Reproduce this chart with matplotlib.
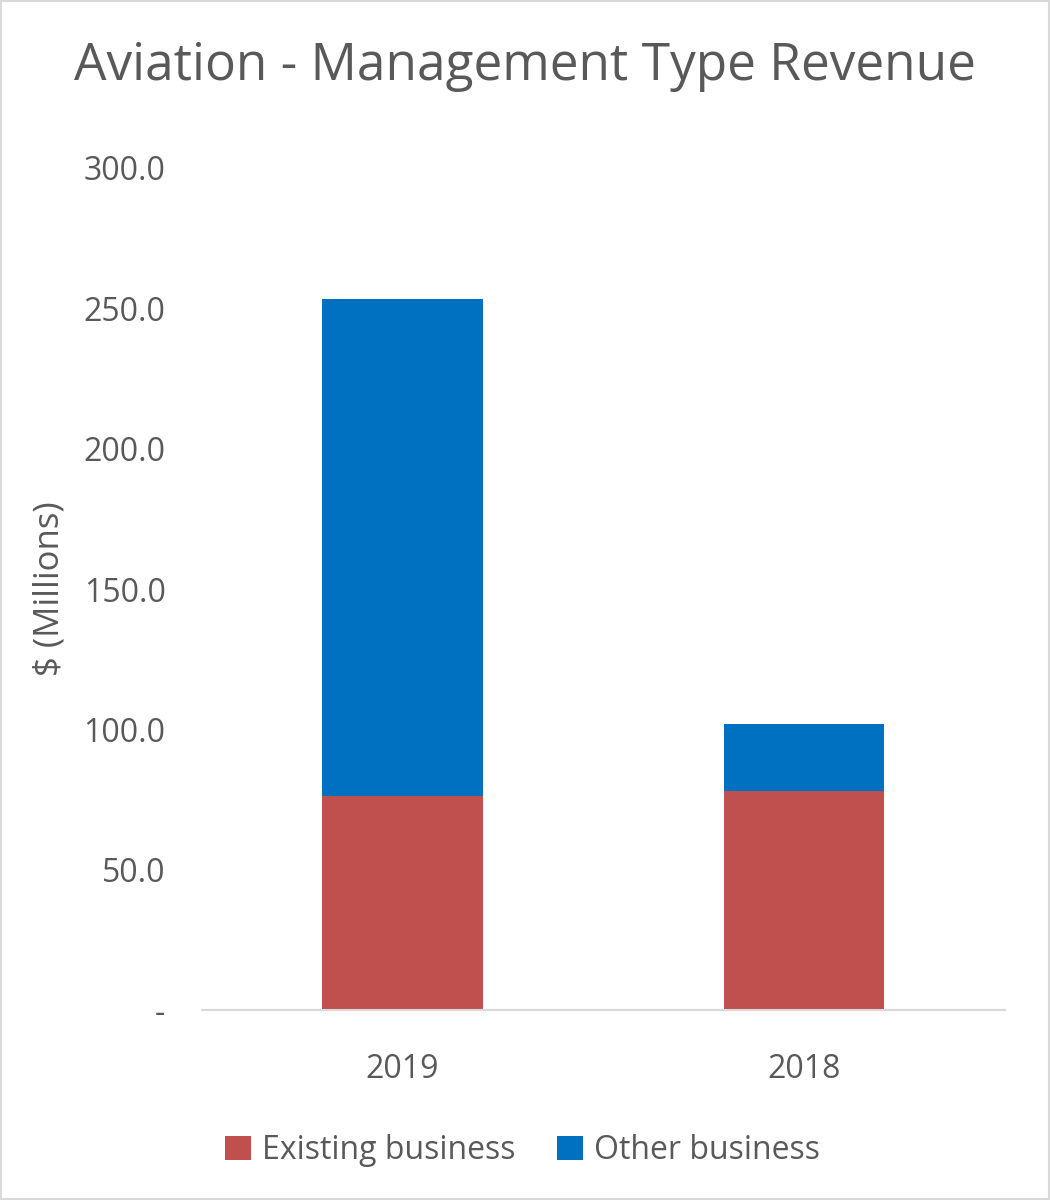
import matplotlib.pyplot as plt
import numpy as np

years = ['2019', '2018']
existing = [76.2, 78.0]
other = [177.1, 23.9]
y_ticks = [0, 50, 100, 150, 200, 250, 300]
y_tick_labels = ['-', '50.0', '100.0', '150.0', '200.0', '250.0', '300.0']

red = '#C0504D'
blue = '#0070C0'
grey = '#595959'

plt.rcParams['font.family'] = ['Open Sans', 'DejaVu Sans']

fig = plt.figure(figsize=(10.5, 12), dpi=100)
ax = fig.add_axes([0.192, 0.1583, 0.765, 0.7017])

x = np.arange(len(years))
ax.bar(x, existing, width=0.4, color=red, label='Existing business')
ax.bar(x, other, width=0.4, bottom=existing, color=blue, label='Other business')

ax.set_xlim(-0.5, 1.5)
ax.set_ylim(0, 300)
ax.set_yticks(y_ticks)
ax.set_yticklabels(y_tick_labels)
ax.set_xticks(x)
ax.set_xticklabels(years)
ax.tick_params(axis='both', length=0, labelsize=23, colors=grey)
ax.tick_params(axis='y', pad=26)
ax.tick_params(axis='x', pad=31)

for s in ['top', 'right', 'left']:
    ax.spines[s].set_visible(False)
ax.spines['bottom'].set_color('#D9D9D9')
ax.spines['bottom'].set_linewidth(1.5)

ax.set_ylabel('$ (Millions)', fontsize=25, color=grey, labelpad=12)

fig.text(0.5, 0.9333, 'Aviation - Management Type Revenue', ha='center', va='baseline',
         fontsize=37, color=grey)

fig.legend(loc='center', bbox_to_anchor=(0.4976, 0.041), ncol=2, frameon=False,
           fontsize=23, labelcolor=grey, handlelength=0.8, handleheight=0.8,
           columnspacing=1.3, handletextpad=0.35)

border = plt.Rectangle((0.001, 0.001), 0.998, 0.998, transform=fig.transFigure,
                       fill=False, edgecolor='#D9D9D9', linewidth=1.5)
fig.patches.append(border)

fig.savefig('out.png', dpi=100)
